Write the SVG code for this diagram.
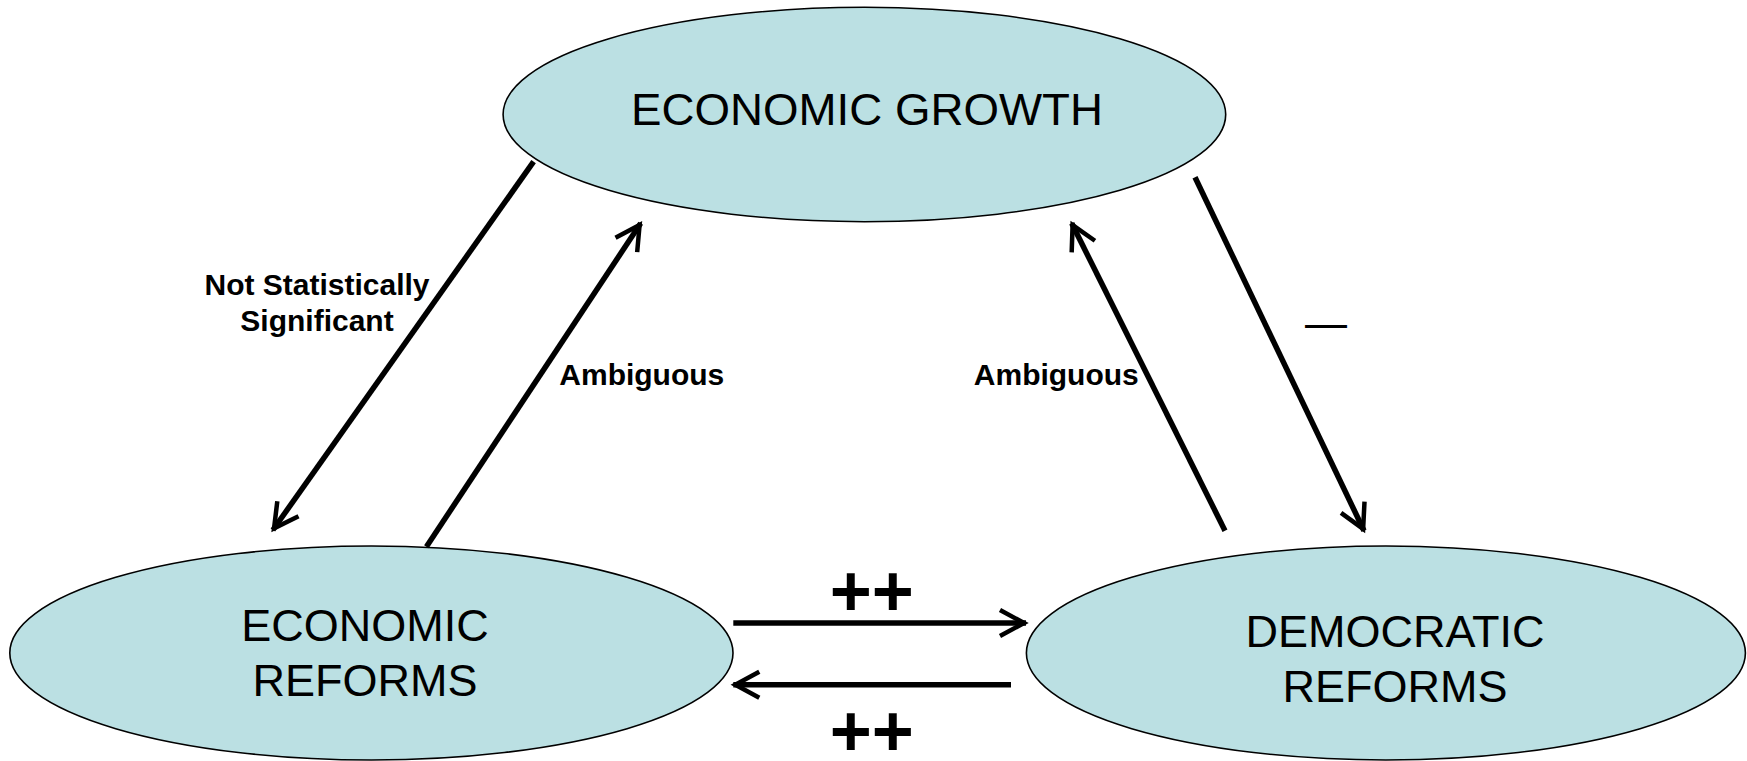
<svg xmlns="http://www.w3.org/2000/svg" width="1747" height="761" viewBox="0 0 1747 761">
<style>
.node{fill:#BBE0E3;stroke:#000;stroke-width:1.6}
.nt{font-family:"Liberation Sans",Arial,sans-serif;font-size:45px;fill:#000;text-anchor:middle}
.lbl{font-family:"Liberation Sans",Arial,sans-serif;font-size:30px;font-weight:bold;fill:#000;text-anchor:middle}
.pp{font-family:"Liberation Sans",Arial,sans-serif;font-size:72px;font-weight:bold;fill:#000;text-anchor:middle}
.edge{stroke:#000;stroke-width:5.5;fill:none}
</style>
<defs>
<marker id="ah" markerUnits="userSpaceOnUse" markerWidth="40" markerHeight="40" viewBox="-34 -20 40 40" refX="0" refY="0" orient="auto" overflow="visible">
<path d="M-26,-13 L-2,0 L-26,13" fill="none" stroke="#000" stroke-width="4.5" stroke-linejoin="miter" stroke-miterlimit="10"/>
</marker>
</defs>
<rect width="1747" height="761" fill="#fff"/>
<g id="node-economic-growth">
<ellipse class="node" cx="864.4" cy="114.5" rx="361.3" ry="107.2"/>
<text class="nt" x="867" y="125" font-size="46" textLength="472" lengthAdjust="spacingAndGlyphs">ECONOMIC GROWTH</text>
</g>
<g id="node-economic-reforms">
<ellipse class="node" cx="371.4" cy="653" rx="361.6" ry="107"/>
<text class="nt" x="365" y="641">ECONOMIC</text>
<text class="nt" x="365" y="696">REFORMS</text>
</g>
<g id="node-democratic-reforms">
<ellipse class="node" cx="1385.9" cy="653" rx="359.5" ry="107"/>
<text class="nt" x="1395" y="646.7">DEMOCRATIC</text>
<text class="nt" x="1395" y="702.3">REFORMS</text>
</g>
<g id="connectors">
<line class="edge" x1="533.6" y1="161.7" x2="272.9" y2="530" marker-end="url(#ah)"/>
<line class="edge" x1="426.4" y1="546.7" x2="640.7" y2="223.3" marker-end="url(#ah)"/>
<line class="edge" x1="1225" y1="530.7" x2="1071.7" y2="223.3" marker-end="url(#ah)"/>
<line class="edge" x1="1195" y1="177.3" x2="1364" y2="530.7" marker-end="url(#ah)"/>
<line class="edge" x1="733.3" y1="623" x2="1026" y2="623" marker-end="url(#ah)"/>
<line class="edge" x1="1011" y1="684.7" x2="733.3" y2="684.7" marker-end="url(#ah)"/>
</g>
<g id="labels">
<text class="lbl" x="317" y="295">Not Statistically</text>
<text class="lbl" x="317" y="331">Significant</text>
<text class="lbl" x="641.8" y="385">Ambiguous</text>
<text class="lbl" x="1056.3" y="384.5">Ambiguous</text>
<text class="lbl" x="1326" y="334.5" font-size="55" textLength="42" lengthAdjust="spacingAndGlyphs">—</text>
<text class="pp" x="871.7" y="616">++</text>
<text class="pp" x="871.7" y="756">++</text>
</g>
</svg>
